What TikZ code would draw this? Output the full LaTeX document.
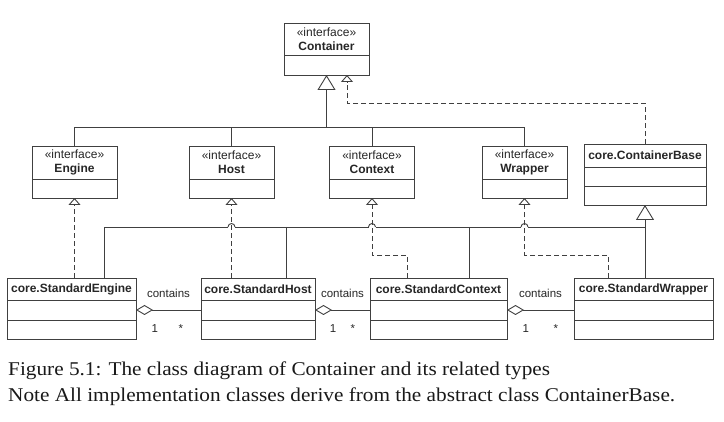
\documentclass[tikz,border=0pt]{standalone}
\usepackage{fontspec}
\setmainfont{Liberation Sans}
\newfontfamily\capfont[FakeStretch=1.09]{Liberation Serif}
\usetikzlibrary{positioning,arrows.meta,calc}

\begin{document}
\begin{tikzpicture}[x=1pt, y=-1pt, node distance=0pt,
    hdr/.style={draw=black!75, line width=0.9pt, inner sep=0pt, outer sep=0pt, align=center, text=black!85, font=\fontsize{12}{14}\selectfont\bfseries},
    cmp/.style={draw=black!75, line width=0.9pt, inner sep=0pt, outer sep=0pt},
    line/.style={draw=black!75, line width=0.9pt},
    gen/.style={line, -{Triangle[open, width=18pt, length=15pt]}},
    real/.style={line, dash pattern=on 5pt off 3pt, -{Triangle[open, width=12pt, length=7pt]}},
    agg/.style={line, {Diamond[open, width=10pt, length=17pt]}-},
    lbl/.style={text=black!85, inner sep=0pt, font=\fontsize{11.5}{13}\selectfont}]
    \useasboundingbox (0,0) rectangle (724,422);
    % interfaces
    \node[hdr, minimum width=85pt, minimum height=32pt] (container) at (326.5,39) {{\mdseries «interface»}\\Container};
    \node[cmp, minimum width=85pt, minimum height=20pt, below=of container] (container1) {};
    \node[hdr, minimum width=85pt, minimum height=33pt] (engine) at (74.5,162.5) {{\mdseries «interface»}\\Engine};
    \node[cmp, minimum width=85pt, minimum height=19pt, below=of engine] (engine1) {};
    \node[hdr, minimum width=85pt, minimum height=33pt] (host) at (231.5,162.5) {{\mdseries «interface»}\\Host};
    \node[cmp, minimum width=85pt, minimum height=19pt, below=of host] (host1) {};
    \node[hdr, minimum width=85pt, minimum height=33pt] (ctx) at (372,162.5) {{\mdseries «interface»}\\Context};
    \node[cmp, minimum width=85pt, minimum height=19pt, below=of ctx] (ctx1) {};
    \node[hdr, minimum width=85pt, minimum height=33pt] (wrap) at (524.5,162.5) {{\mdseries «interface»}\\Wrapper};
    \node[cmp, minimum width=85pt, minimum height=19pt, below=of wrap] (wrap1) {};
    % abstract base
    \node[hdr, minimum width=122pt, minimum height=23pt] (base) at (645,155.5) {core.ContainerBase};
    \node[cmp, minimum width=122pt, minimum height=19pt, below=of base] (base1) {};
    \node[cmp, minimum width=122pt, minimum height=19pt, below=of base1] (base2) {};
    % implementations
    \node[hdr, minimum width=129pt, minimum height=22pt] (seng) at (71.5,289) {core.StandardEngine};
    \node[cmp, minimum width=129pt, minimum height=20pt, below=of seng] (seng1) {};
    \node[cmp, minimum width=129pt, minimum height=19pt, below=of seng1] (seng2) {};
    \node[hdr, minimum width=114pt, minimum height=22pt] (shost) at (258,289) {core.StandardHost};
    \node[cmp, minimum width=114pt, minimum height=20pt, below=of shost] (shost1) {};
    \node[cmp, minimum width=114pt, minimum height=19pt, below=of shost1] (shost2) {};
    \node[hdr, minimum width=137pt, minimum height=22pt] (sctx) at (438.5,289) {core.StandardContext};
    \node[cmp, minimum width=137pt, minimum height=20pt, below=of sctx] (sctx1) {};
    \node[cmp, minimum width=137pt, minimum height=19pt, below=of sctx1] (sctx2) {};
    \node[hdr, minimum width=139pt, minimum height=22pt] (swrap) at (643.5,289) {core.StandardWrapper};
    \node[cmp, minimum width=139pt, minimum height=20pt, below=of swrap] (swrap1) {};
    \node[cmp, minimum width=139pt, minimum height=19pt, below=of swrap1] (swrap2) {};
    % interfaces extend Container
    \coordinate (trunk) at (326.5,127);
    \draw[line] (engine.north) |- (wrap.north |- trunk) -- (wrap.north);
    \draw[line] (host.north) -- (host.north |- trunk);
    \draw[line] (ctx.north) -- (ctx.north |- trunk);
    \draw[gen] (trunk) -- (container1.south);
    \coordinate (cbend) at (347,103);
    \draw[real] (base.north) |- (cbend) -- (cbend |- container1.south);
    % realizations
    \coordinate (cxbend) at (407,255);
    \coordinate (wrbend) at (608,255);
    \draw[real] (seng.north -| engine1.south) -- (engine1.south);
    \draw[real] (shost.north -| host1.south) -- (host1.south);
    \draw[real] (cxbend |- sctx.north) -- (cxbend) -| (ctx1.south);
    \draw[real] (wrbend |- swrap.north) -- (wrbend) -| (wrap1.south);
    % everything extends ContainerBase
    \coordinate (bus) at (104,227);
    \coordinate (hdrop) at (286,227);
    \coordinate (cdrop) at (469,227);
    \coordinate (j1) at (host1.south |- bus);
    \coordinate (j2) at (ctx1.south |- bus);
    \coordinate (j3) at (wrap1.south |- bus);
    \draw[line] (bus |- seng.north) -- (bus) -- ($(j1)+(-3.5,0)$)
        ($(j1)+(3.5,0)$) -- ($(j2)+(-3.5,0)$)
        ($(j2)+(3.5,0)$) -- ($(j3)+(-3.5,0)$)
        ($(j3)+(3.5,0)$) -- (base2.south |- bus);
    \foreach \j in {j1,j2,j3}
        \draw[line] ($(\j)+(-3.5,0)$) arc[start angle=180, end angle=360, radius=3.5];
    \draw[gen] (base2.south |- swrap.north) -- (base2.south);
    \draw[line] (hdrop) -- (hdrop |- shost.north);
    \draw[line] (cdrop) -- (cdrop |- sctx.north);
    % aggregations
    \draw[agg] (seng1.east) -- (shost1.west)
        node[lbl, pos=0.5, yshift=17pt] {contains}
        node[lbl, pos=0.29, yshift=-19pt] {1}
        node[lbl, pos=0.69, yshift=-19pt] {*};
    \draw[agg] (shost1.east) -- (sctx1.west)
        node[lbl, pos=0.5, yshift=17pt] {contains}
        node[lbl, pos=0.33, yshift=-19pt] {1}
        node[lbl, pos=0.69, yshift=-19pt] {*};
    \draw[agg] (sctx1.east) -- (swrap1.west)
        node[lbl, pos=0.5, yshift=17pt] {contains}
        node[lbl, pos=0.28, yshift=-19pt] {1}
        node[lbl, pos=0.73, yshift=-19pt] {*};
    % caption
    \node[anchor=base west, inner sep=0pt, text=black!90, font=\capfont\fontsize{19.5}{22}\selectfont] (cap1) at (8,376) {Figure 5.1: The class diagram of Container and its related types};
    \node[anchor=base west, inner sep=0pt, text=black!90, font=\capfont\fontsize{19.5}{22}\selectfont] (cap2) at (8,402) {Note All implementation classes derive from the abstract class ContainerBase.};
\end{tikzpicture}
\end{document}
